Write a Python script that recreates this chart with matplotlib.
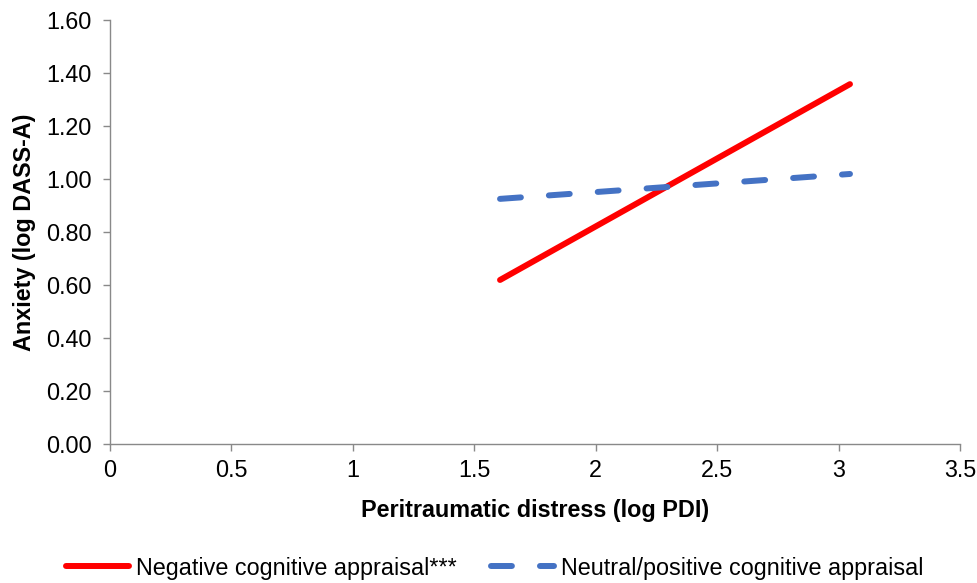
import matplotlib
matplotlib.use("Agg")
import matplotlib.pyplot as plt
from matplotlib.ticker import FormatStrFormatter

plt.rcParams['font.family'] = ['Liberation Sans', 'DejaVu Sans']

neg_x = [1.606, 3.047]
neg_y = [0.619, 1.358]
neu_x = [1.606, 3.047]
neu_y = [0.925, 1.019]
xticks = [0, 0.5, 1, 1.5, 2, 2.5, 3, 3.5]
yticks = [0.0, 0.2, 0.4, 0.6, 0.8, 1.0, 1.2, 1.4, 1.6]

FS = 16.8

fig = plt.figure(figsize=(9.78, 5.83), dpi=100)
ax = fig.add_axes([110/978, 1-444/583, 850/978, 424/583])

ax.plot(neg_x, neg_y, color='#FF0000', lw=4.3, solid_capstyle='round',
        label='Negative cognitive appraisal***')
ax.plot(neu_x, neu_y, color='#4472C4', lw=4.3, dash_capstyle='round',
        linestyle=(0, (3.5, 4.7)), label='Neutral/positive cognitive appraisal')

ax.set_xlim(0, 3.5)
ax.set_ylim(0, 1.6)
ax.set_xticks(xticks)
ax.set_xticklabels(['0', '0.5', '1', '1.5', '2', '2.5', '3', '3.5'])
ax.set_yticks(yticks)
ax.yaxis.set_major_formatter(FormatStrFormatter('%.2f'))
for s in ['top', 'right']:
    ax.spines[s].set_visible(False)
for s in ['left', 'bottom']:
    ax.spines[s].set_color('#898989')
    ax.spines[s].set_linewidth(1.0)
ax.tick_params(axis='both', colors='#898989', labelcolor='black', labelsize=FS,
               length=5, width=1.0, direction='out')
ax.tick_params(axis='y', pad=8)
ax.tick_params(axis='x', pad=6)
ax.set_xlabel('Peritraumatic distress (log PDI)', fontsize=FS, fontweight='bold', labelpad=12)
ax.set_ylabel('Anxiety (log DASS-A)', fontsize=FS, fontweight='bold', labelpad=7)

fig.legend(loc='center', bbox_to_anchor=(0.506, 1-568/583), ncol=2, frameon=False,
           fontsize=FS, handlelength=2.7, columnspacing=1.5, handletextpad=0.3)

fig.savefig('out.png', dpi=100)
